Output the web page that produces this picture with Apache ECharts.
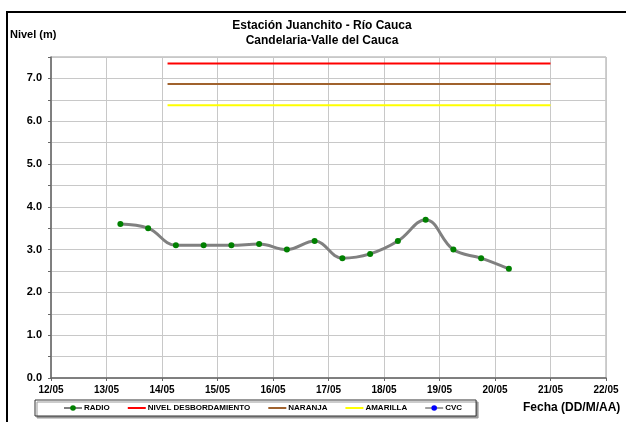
<!DOCTYPE html>
<html>
<head>
<meta charset="utf-8">
<script src="https://cdn.jsdelivr.net/npm/echarts@6/dist/echarts.min.js"></script>
<style>
  html, body { margin: 0; padding: 0; background: #fff; }
  #chart { width: 629px; height: 422px; }
</style>
</head>
<body>
<div id="chart"></div>
<script>
  // dias (12 = 12/05) y niveles
  var radioDias = [13.25, 13.75, 14.25, 14.75, 15.25, 15.75, 16.25, 16.75, 17.25, 17.75, 18.25, 18.75, 19.25, 19.75, 20.25];
  var radioNivel = [3.6, 3.5, 3.1, 3.1, 3.1, 3.13, 3.0, 3.2, 2.8, 2.9, 3.2, 3.7, 3.0, 2.8, 2.55];
  var umbralDias = [14.1, 21.0];
  var nivelDesbordamiento = [7.35, 7.35];
  var nivelNaranja = [6.87, 6.87];
  var nivelAmarilla = [6.37, 6.37];
  var cvcDias = [];
  var cvcNivel = [];

  function pares(xs, ys) {
    var out = [];
    for (var i = 0; i < xs.length; i++) out.push([xs[i], ys[i]]);
    return out;
  }
  function fmtDia(v) {
    var d = Math.round(v);
    return (d < 10 ? '0' + d : d) + '/05';
  }

  var font = 'Liberation Sans, Arial, sans-serif';
  var myChart = echarts.init(document.getElementById('chart'));
  var sinSimbolo = { opacity: 0 };

  var option = {
    backgroundColor: '#fff',
    animation: false,
    textStyle: { fontFamily: font },
    grid: {
      left: 51, right: 23, top: 57, bottom: 44,
      show: true, borderColor: '#a0a0a0', borderWidth: 1
    },
    graphic: [
      {
        type: 'polyline',
        shape: { points: [[7, 422], [7, 12], [626, 12]] },
        style: { stroke: '#000', lineWidth: 2, fill: null }
      },
      {
        type: 'text', x: 322, y: 18,
        style: {
          text: 'Estación Juanchito - Río Cauca\nCandelaria-Valle del Cauca',
          textAlign: 'center', fill: '#000', lineHeight: 15,
          font: 'bold 12px ' + font
        }
      },
      {
        type: 'text', x: 10, y: 29,
        style: { text: 'Nivel (m)', fill: '#000', font: 'bold 11px ' + font }
      },
      {
        type: 'text', x: 523, y: 402,
        style: { text: 'Fecha (DD/M/AA)', fill: '#000', font: 'bold 12px ' + font }
      }
    ],
    legend: {
      left: 35, top: 400,
      padding: [4, 14, 4, 28],
      itemWidth: 18, itemHeight: 7, itemGap: 17,
      backgroundColor: '#fff',
      borderColor: '#333', borderWidth: 1,
      shadowColor: '#999', shadowOffsetX: 2, shadowOffsetY: 2, shadowBlur: 0,
      textStyle: { fontSize: 8, fontWeight: 'bold', color: '#000', fontFamily: font, padding: [0, 0, 0, -3] },
      data: [
        'RADIO',
        { name: 'NIVEL DESBORDAMIENTO', itemStyle: sinSimbolo },
        { name: 'NARANJA', itemStyle: sinSimbolo },
        { name: 'AMARILLA', itemStyle: sinSimbolo },
        'CVC'
      ]
    },
    xAxis: {
      type: 'value', min: 12, max: 22, interval: 1,
      axisLine: { onZero: false, lineStyle: { color: '#666', width: 1.5 } },
      axisTick: { show: true, length: 3, lineStyle: { color: '#666' } },
      axisLabel: {
        formatter: fmtDia, color: '#000', fontWeight: 'bold', fontSize: 10, margin: 7
      },
      splitLine: { show: true, lineStyle: { color: '#c8c8c8', width: 1 } }
    },
    yAxis: {
      type: 'value', min: 0, max: 7.5, interval: 0.5,
      axisLine: { show: true, lineStyle: { color: '#666', width: 1.5 } },
      axisTick: { show: true, length: 3, lineStyle: { color: '#666' } },
      axisLabel: {
        color: '#000', fontWeight: 'bold', fontSize: 11, margin: 9,
        formatter: function (v) { return Math.abs(v - Math.round(v)) < 1e-6 ? v.toFixed(1) : ''; }
      },
      splitLine: { show: true, lineStyle: { color: '#c8c8c8', width: 1 } }
    },
    series: [
      {
        name: 'RADIO', type: 'line', smooth: 0.4,
        data: pares(radioDias, radioNivel),
        symbol: 'circle', symbolSize: 6,
        lineStyle: { color: '#808080', width: 3 },
        itemStyle: { color: '#008000', borderWidth: 0 },
        z: 5
      },
      {
        name: 'NIVEL DESBORDAMIENTO', type: 'line', symbol: 'none',
        data: pares(umbralDias, nivelDesbordamiento),
        lineStyle: { color: '#ff0000', width: 2 }, itemStyle: { color: '#ff0000' }
      },
      {
        name: 'NARANJA', type: 'line', symbol: 'none',
        data: pares(umbralDias, nivelNaranja),
        lineStyle: { color: '#a0622d', width: 2 }, itemStyle: { color: '#a0622d' }
      },
      {
        name: 'AMARILLA', type: 'line', symbol: 'none',
        data: pares(umbralDias, nivelAmarilla),
        lineStyle: { color: '#ffff00', width: 2 }, itemStyle: { color: '#ffff00' }
      },
      {
        name: 'CVC', type: 'line', symbol: 'circle', symbolSize: 5,
        data: pares(cvcDias, cvcNivel),
        lineStyle: { color: '#a0a0a0', width: 2 }, itemStyle: { color: '#0000ff' }
      }
    ]
  };

  myChart.setOption(option);
  window.addEventListener('resize', function () {
    myChart.resize();
  });
</script>
</body>
</html>
